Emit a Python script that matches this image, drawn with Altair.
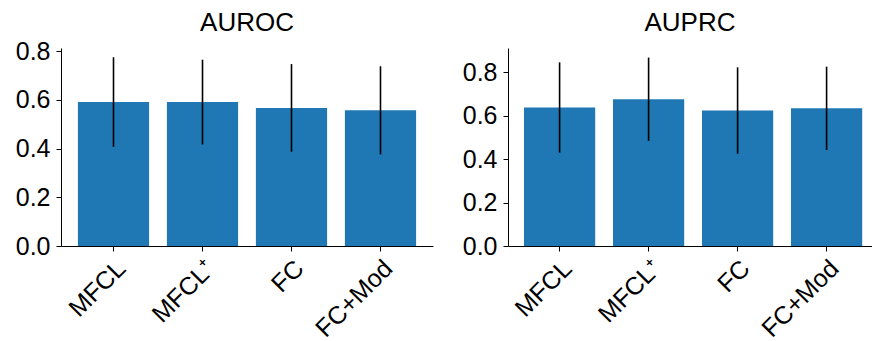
import altair as alt
import pandas as pd

models = ["MFCL", "MFCL⁺", "FC", "FC+Mod"]
auroc_mean = [0.591, 0.591, 0.567, 0.557]
auroc_std = [0.184, 0.174, 0.180, 0.181]
auprc_mean = [0.638, 0.676, 0.624, 0.634]
auprc_std = [0.208, 0.192, 0.199, 0.192]
y_ticks = [0.0, 0.2, 0.4, 0.6, 0.8]
titles = ["AUROC", "AUPRC"]

FONT = "Liberation Sans"
BLUE = "#1f77b4"
H = 198


def panel(title, means, stds, ymax, width, x_scale):
    df = pd.DataFrame({"model": models, "mean": means, "std": stds})
    base = alt.Chart(df).transform_calculate(
        lo="datum.mean - datum.std", hi="datum.mean + datum.std"
    )
    x_axis = alt.Axis(
        title=None,
        labelAngle=315,
        labelAlign="right",
        labelBaseline="middle",
        labelPadding=13,
        labelOffset=8,
    )
    x = alt.X("model:N", sort=models, scale=x_scale, axis=x_axis)
    y = alt.Y(
        "mean:Q",
        scale=alt.Scale(domain=[0, ymax], nice=False, zero=True),
        axis=alt.Axis(values=y_ticks, format=".1f", title=None, labelPadding=6),
    )
    bars = base.mark_bar(color=BLUE).encode(x=x, y=y)
    err = base.mark_rule(color="black", strokeWidth=1.6).encode(
        x=alt.X("model:N", sort=models), y="lo:Q", y2="hi:Q"
    )
    ttl = (
        alt.Chart(pd.DataFrame({"t": [title]}))
        .mark_text(font=FONT, fontSize=26, color="black", align="center", baseline="alphabetic")
        .encode(x=alt.value(width / 2), y=alt.value(-17), text="t:N")
    )
    return alt.layer(bars, err, ttl).properties(width=width, height=H)


left = panel(
    titles[0], auroc_mean, auroc_std, 0.813, 372,
    alt.Scale(paddingInner=0.2, paddingOuter=0.19),
)
right = panel(
    titles[1], auprc_mean, auprc_std, 0.912, 364,
    alt.Scale(paddingInner=0.2, paddingOuter=0.145, align=0.62),
)

chart = (
    alt.hconcat(left, right, spacing=29)
    .properties(padding={"left": 15, "top": 10, "right": 0, "bottom": 0})
    .configure_view(stroke=None)
    .configure_axis(
        grid=False,
        domainColor="black",
        domainWidth=1,
        tickColor="black",
        tickWidth=1,
        tickSize=5,
        labelFont=FONT,
        labelFontSize=25,
        labelColor="black",
    )
)

chart.save("out.html", embed_options={"renderer": "svg", "actions": False})
